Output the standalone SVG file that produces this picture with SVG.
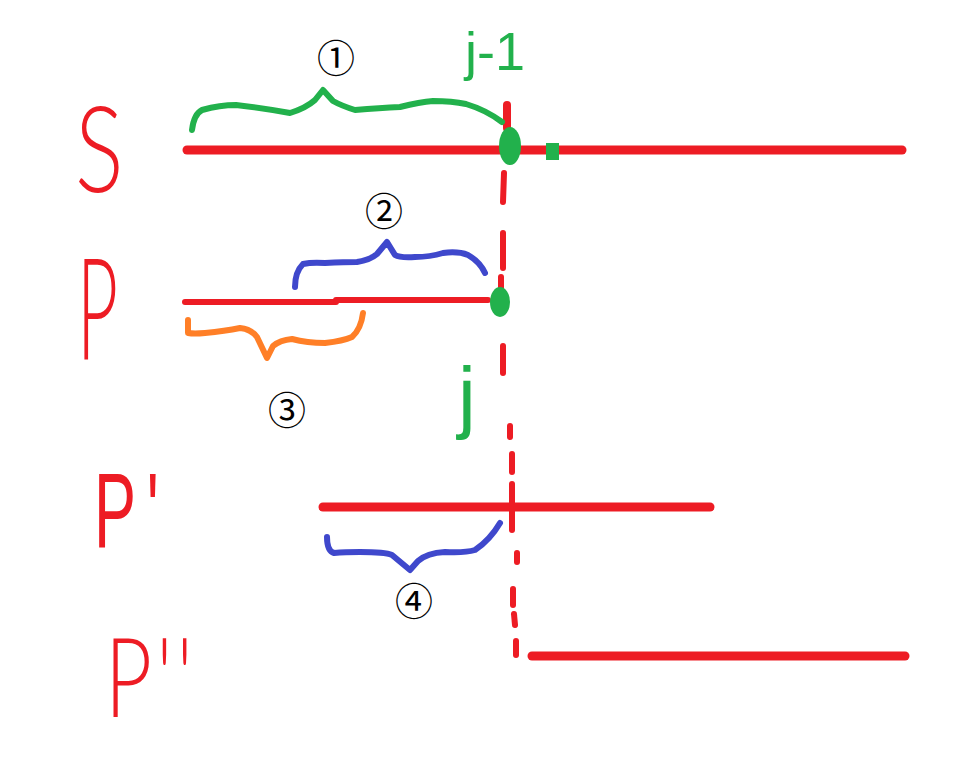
<svg xmlns="http://www.w3.org/2000/svg" width="963" height="771" viewBox="0 0 963 771">
<style>
.red{stroke:#ED1C24;stroke-linecap:round;fill:none}
.brace{fill:none;stroke-width:6;stroke-linecap:round;stroke-linejoin:round}
.lbl{fill:#ED1C24;font-family:Lato,"Open Sans","Liberation Sans",Arial,sans-serif;font-weight:300}
.grn{fill:#22B14C;font-family:"Liberation Sans",Arial,sans-serif}
.num{fill:#000;font-family:"Noto Sans CJK SC","DejaVu Sans",sans-serif;font-size:38px;text-anchor:middle;dominant-baseline:central}
</style>
<rect width="963" height="771" fill="#fff"/>
<g id="row-S">
<text class="lbl" transform="translate(75,192) scale(0.75,1)" font-size="121">S</text>
<line class="red" x1="187" y1="150" x2="902" y2="150" stroke-width="9"/>
</g>
<g id="row-P">
<text class="lbl" transform="translate(77,360) scale(0.5,1)" font-size="142">P</text>
<line class="red" x1="185" y1="302" x2="336" y2="302" stroke-width="6"/>
<line class="red" x1="336" y1="300" x2="488" y2="300" stroke-width="6"/>
</g>
<g id="row-P1">
<text class="lbl" transform="translate(94,547) scale(0.6,1)" font-size="105" style="font-family:'Liberation Sans',Arial,sans-serif;font-weight:400" letter-spacing="18">P'</text>
<line class="red" x1="323" y1="507" x2="710" y2="507" stroke-width="9"/>
</g>
<g id="row-P2">
<text class="lbl" transform="translate(105,717) scale(0.74,1)" font-size="110" letter-spacing="6">P''</text>
<line class="red" x1="532" y1="656" x2="905" y2="656" stroke-width="9"/>
</g>
<g id="connectors">
<g class="red" stroke-width="6">
<line x1="507" y1="105" x2="507" y2="128" stroke-width="8"/>
<line x1="504" y1="173" x2="503" y2="202"/>
<line x1="503" y1="233" x2="503" y2="268"/>
<line x1="501" y1="277" x2="501" y2="288"/>
<line x1="503" y1="346" x2="503" y2="373"/>
<line x1="510" y1="426" x2="510" y2="437"/>
<line x1="512" y1="454" x2="512" y2="472"/>
<line x1="512" y1="484" x2="512" y2="530"/>
<line x1="517" y1="553" x2="517" y2="562"/>
<line x1="513" y1="589" x2="513" y2="605"/>
<line x1="514" y1="614" x2="515" y2="625"/>
<line x1="516" y1="641" x2="516" y2="655"/>
</g>
<path class="brace" stroke="#22B14C" d="M192,130 Q194,114 202,110 Q220,105 236,105 Q262,108 290,113 Q306,108 315,100 L323,90 L333,101 Q342,106 355,110 Q380,108 400,107 Q420,102 433,101 Q452,101 466,104 Q486,110 502,122"/>
<path class="brace" stroke="#3F48CC" d="M295,287 Q295,272 303,264 Q312,262 325,263 Q345,262 357,262 Q370,260 377,254 L387,242 L395,255 Q400,258 415,257 Q430,257 443,253 Q458,251 468,255 Q480,262 485,273"/>
<path class="brace" stroke="#FF7F27" d="M188,320 L188,333 Q194,334 205,333 Q225,331 240,328 Q251,329 257,337 L267,358 L273,346 Q280,340 292,339 Q307,343 325,343 Q343,341 352,337 Q361,329 363,313"/>
<path class="brace" stroke="#3F48CC" d="M327,537 Q327,551 334,553 Q345,552 360,552 Q385,552 392,555 L410,570 L418,561 Q427,553 445,552 Q465,553 475,550 Q490,540 500,523"/>
<ellipse cx="510" cy="146" rx="11" ry="19" fill="#22B14C"/>
<rect x="546" y="143" width="13" height="17" fill="#22B14C"/>
<ellipse cx="500" cy="302" rx="10" ry="15" fill="#22B14C"/>
</g>
<g id="labels">
<text class="grn" x="465" y="70" font-size="54">j-1</text>
<text class="grn" x="458" y="423" font-size="80">j</text>
<text class="num" x="336" y="55">①</text>
<text class="num" x="384" y="208">②</text>
<text class="num" x="287" y="407">③</text>
<text class="num" x="414" y="598">④</text>
</g>
</svg>
